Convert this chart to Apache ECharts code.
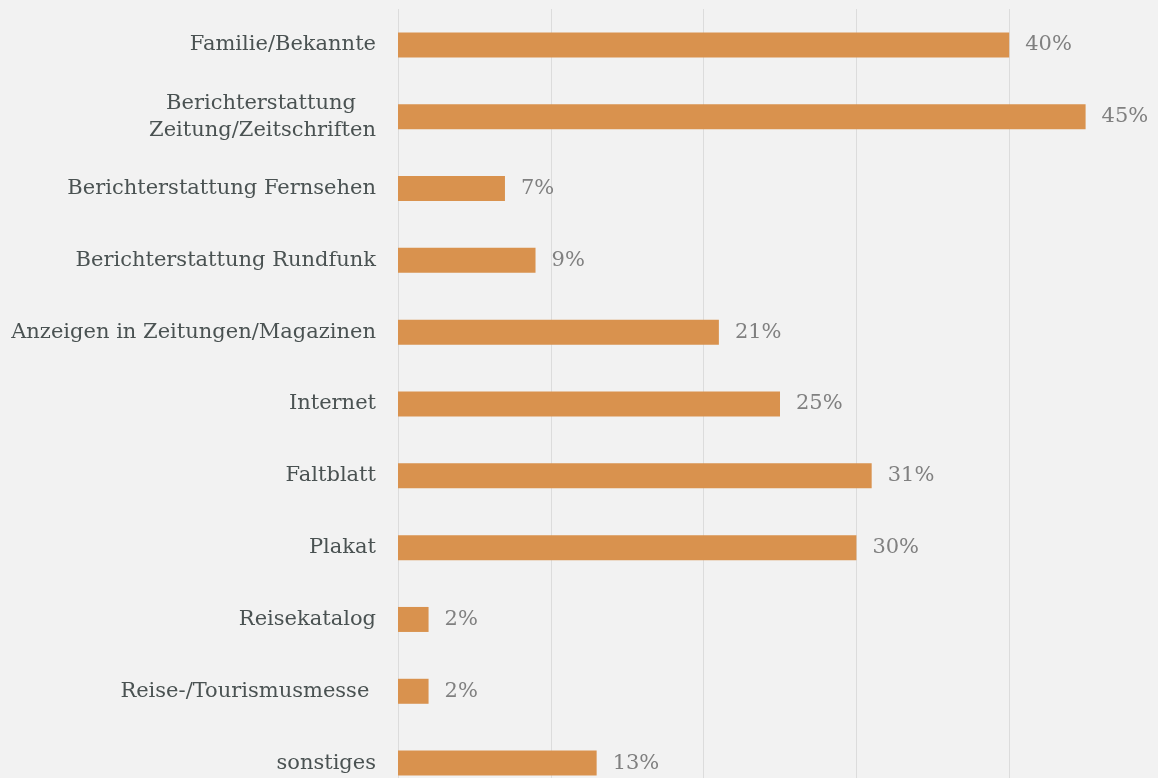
<!DOCTYPE html>
<html>
<head>
<meta charset="utf-8">
<script src="https://cdn.jsdelivr.net/npm/echarts@6/dist/echarts.min.js"></script>
<style>
  html, body { margin: 0; padding: 0; background: #f2f2f2; }
  #chart { width: 1158px; height: 778px; }
</style>
</head>
<body>
<div id="chart"></div>
<script>
// Kategorien (von oben nach unten)
const categories = [
  'Familie/Bekannte',
  'Berichterstattung\u00a0\u00a0\u00a0\nZeitung/Zeitschriften',
  'Berichterstattung Fernsehen',
  'Berichterstattung Rundfunk',
  'Anzeigen in Zeitungen/Magazinen',
  'Internet',
  'Faltblatt',
  'Plakat',
  'Reisekatalog',
  'Reise-/Tourismusmesse ',
  'sonstiges'
];
// Anteile in Prozent
const values = [40, 45, 7, 9, 21, 25, 31, 30, 2, 2, 13];

const chart = echarts.init(document.getElementById('chart'));

const option = {
  backgroundColor: '#f2f2f2',
  animation: false,
  grid: {
    left: 398,
    top: 9,
    width: 764,
    height: 790,
    outerBoundsMode: 'none'
  },
  xAxis: {
    type: 'value',
    min: 0,
    max: 50,
    interval: 10,
    axisLabel: { show: false },
    axisLine: { show: false },
    axisTick: { show: false },
    splitLine: { lineStyle: { color: '#dcdcdc', width: 1 } }
  },
  yAxis: {
    type: 'category',
    inverse: true,
    data: categories,
    axisLine: { show: false },
    axisTick: { show: false },
    axisLabel: {
      margin: 22,
      color: '#4a5252',
      fontFamily: 'DejaVu Serif',
      fontSize: 21,
      lineHeight: 27
    }
  },
  series: [
    {
      type: 'bar',
      data: values,
      barWidth: 25,
      itemStyle: { color: '#d9924e' },
      label: {
        show: true,
        position: 'right',
        distance: 16,
        formatter: '{c}%',
        color: '#808080',
        fontFamily: 'DejaVu Serif',
        fontSize: 21
      }
    }
  ]
};

chart.setOption(option);
</script>
</body>
</html>
